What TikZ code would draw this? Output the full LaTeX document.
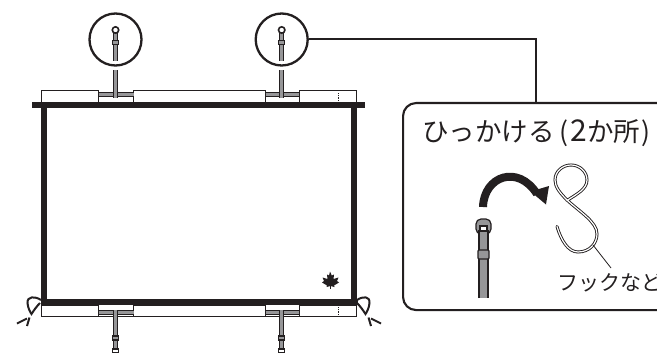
\documentclass[tikz,border=0pt]{standalone}
\usepackage{xcolor}
\usepackage{fontspec}
\usepackage{tikz}
\usetikzlibrary{calc}
\newfontfamily\jpfont{Noto Sans CJK JP}
\definecolor{strapcolor}{RGB}{150, 150, 152}
\definecolor{inkcolor}{RGB}{35, 31, 32}

\begin{document}
\begin{tikzpicture}[
    x=1pt, y=-1pt,
    bar/.style={line width=6pt, draw=inkcolor},
    sleeve/.style={draw=inkcolor, line width=1pt, fill=white},
    strap/.style={draw=inkcolor, line width=1pt, double=strapcolor, double distance=3.4pt},
    band/.style={draw=inkcolor, line width=0.8pt, double=strapcolor, double distance=3pt},
    lens/.style={circle, draw=inkcolor, line width=2.3pt, minimum size=52pt, inner sep=0pt},
    tie/.style={draw=inkcolor, line width=2pt},
    label/.style={inner sep=0pt, text=inkcolor, anchor=west}
]
\clip (0,0) rectangle (657,353);

% Sleeves
\foreach \ya/\yb in {91/102.5, 305/316} {
    \draw[sleeve] (41,\ya) rectangle (98.5,\yb);
    \draw[sleeve] (133.5,\ya) rectangle (265.5,\yb);
    \draw[sleeve] (299,\ya) rectangle (356.5,\yb);
    \draw[sleeve] (98.5,\ya+1) -- (98.5,\yb) -- (133.5,\yb) -- (133.5,\ya+1);
    \draw[sleeve] (265.5,\ya+1) -- (265.5,\yb) -- (299,\yb) -- (299,\ya+1);
    \draw[inkcolor, line width=0.8pt, densely dotted] (338,\ya+2) -- (338,\yb);
}

% Frame
\draw[bar] (43.5,103) -- (43.5,302);
\draw[bar] (354,103) -- (354,302);
\draw[bar] (32,105) -- (365,105);
\draw[bar] (41,302) -- (358,302);

% Straps
\foreach \xs/\xa/\xb/\lensname in {115.5/98.5/133.5/lensleft, 281.7/265.5/299/lensright} {
    \draw[band] (\xa,94.5) -- (\xb,94.5);
    \draw[strap] (\xs,98) -- (\xs,70);
    \node[lens] (\lensname) at (\xs,39.5) {};
    \draw[strap] (\xs,61) -- (\xs,33);
    \draw[inkcolor, line width=1.2pt, fill=strapcolor] (\xs-3,40.5) rectangle (\xs+3,44.5);
    \draw[inkcolor, line width=1.6pt, fill=white] (\xs,30) circle (3.2);
    % Lower strap
    \draw[band] (\xa,312.5) -- (\xb,312.5);
    \draw[strap] (\xs,310) -- (\xs,350);
    \draw[inkcolor, line width=1.2pt, fill=strapcolor] (\xs-3,336) rectangle (\xs+3,340);
    \draw[inkcolor, line width=1.4pt, fill=white] (\xs-3,353) rectangle (\xs+3,349);
}

% Ties
\draw[tie] (41,300) .. controls (35,296) and (27,296) .. (27.5,303) .. controls (28,308) and (30,312) .. (31.5,314) .. controls (34,310) and (37,306) .. (40,303);
\draw[tie] (17,323.5) -- (27,318.5);
\draw[tie] (27,326) -- (29.5,317.5);
\draw[tie] (357,300) .. controls (363,296) and (370,296) .. (369.5,303) .. controls (369,308) and (367,312) .. (365.5,314) .. controls (363,310) and (360,306) .. (357,303);
\draw[tie] (381,323.5) -- (371,318.5);
\draw[tie] (371,326) -- (368.5,317.5);

% Leaf
\fill[inkcolor] (330,271.5) -- (331.8,275.5) -- (334,274.5) -- (333.5,279) -- (338.5,277.5) -- (337,281) -- (339,282.5) -- (334,285.5) -- (334.5,287) -- (330.5,286) -- (326.5,287) -- (327,285.5) -- (322,282.5) -- (324,281) -- (322.5,277.5) -- (327.5,279) -- (327,274.5) -- (329,275.5) -- cycle;
\draw[inkcolor, line width=0.4pt] (330.5,286) -- (330.5,289);

% Callout
\node[draw=inkcolor, line width=2.1pt, rounded corners=13pt, minimum width=320pt, minimum height=207pt, inner sep=0pt, anchor=north west] (callout) at (402,102) {};
\coordinate (calloutjoin) at (536,102);
\draw[inkcolor, line width=2pt] (lensright.east) -| (calloutjoin);
\node[label, font=\jpfont\fontsize{26.5}{26.5}\selectfont] (title) at (422,133) {ひっかける\hspace{5pt}(\hspace{2pt}{\fontsize{30}{30}\selectfont 2}か所\hspace{1pt})};

% Big strap
\draw[inkcolor, line width=1.2pt, fill=strapcolor, rounded corners=5pt] (476,234) rectangle (491,219);
\fill[white] (480,231) rectangle (487,225);
\draw[inkcolor, line width=1.2pt] (480,231) -- (480,226) -- (487,226) -- (487,231);
\draw[inkcolor, line width=1.2pt, fill=strapcolor] (479,298) -- (479,231) -- (488,231) -- (488,298);
\draw[inkcolor, line width=1.2pt, fill=strapcolor, rounded corners=1pt] (478,250) rectangle (489,259);

% Turn arrow
\draw[inkcolor, line width=8pt] (483,207) .. controls (484,176) and (518,164) .. (537,194);
\fill[inkcolor] (530.5,191.5) -- (549,186) -- (546,204.5) -- cycle;

% Hook
\draw[inkcolor, line width=0.9pt, double=white, double distance=1.2pt, line cap=round]
    (557,226.5) .. controls (561,240) and (568,252) .. (578,252)
    .. controls (590,252) and (597,243) .. (597,234)
    .. controls (597,222) and (580,212) .. (567,200)
    .. controls (560,193) and (555,187) .. (555,180)
    .. controls (555,171) and (563,165) .. (571,165)
    .. controls (580,165) and (587,172) .. (587,180)
    .. controls (587,189) and (577,194) .. (567,200.5);

% Hook label
\node[label, font=\jpfont\fontsize{21}{21}\selectfont] (hooklabel) at (557,283) {フックなど};
\coordinate (hookpoint) at (593,245);
\coordinate (hookend) at (611,268);
\draw[inkcolor, line width=0.8pt] (hookpoint) -- (hookend);

\end{tikzpicture}
\end{document}
